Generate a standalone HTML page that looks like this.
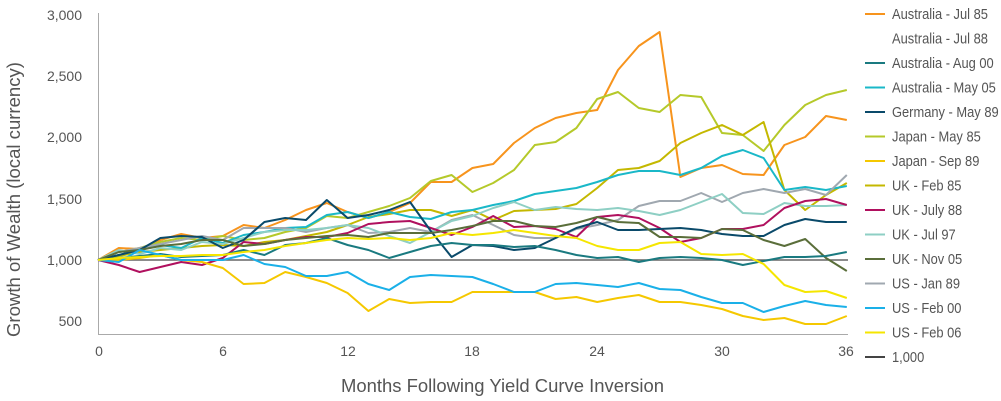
<!DOCTYPE html>
<html><head><meta charset="utf-8"><style>
html,body{margin:0;padding:0;background:#fff;width:1001px;height:401px;overflow:hidden}
svg text{font-family:"Liberation Sans Narrow","Liberation Sans",sans-serif;fill:#555}
</style></head><body>
<svg id="c" width="1001" height="401" xmlns="http://www.w3.org/2000/svg">
<g font-size="14" text-anchor="end">
<text x="82" y="20">3,000</text><text x="82" y="81">2,500</text><text x="82" y="142">2,000</text>
<text x="82" y="204">1,500</text><text x="82" y="265">1,000</text><text x="82" y="326">500</text>
</g>
<g font-size="14" text-anchor="middle">
<text x="99" y="356">0</text><text x="223" y="356">6</text><text x="348" y="356">12</text>
<text x="472" y="356">18</text><text x="597" y="356">24</text><text x="722" y="356">30</text><text x="846" y="356">36</text>
</g>
<text x="341" y="392" font-size="18" textLength="323" lengthAdjust="spacingAndGlyphs">Months Following Yield Curve Inversion</text>
<text transform="translate(20,337) rotate(-90)" font-size="18" textLength="275" lengthAdjust="spacingAndGlyphs">Growth of Wealth (local currency)</text>
<line x1="98.5" y1="13" x2="98.5" y2="334" stroke="#aaa" stroke-width="1"/>
<line x1="98" y1="334.5" x2="848" y2="334.5" stroke="#aaa" stroke-width="1"/>
<line x1="98" y1="260" x2="848" y2="260" stroke="#666" stroke-width="1.5"/>
<g id="lines" fill="none" stroke-width="2" stroke-linejoin="round"></g>
<g id="leg" font-size="14"></g>
</svg>
<script>
var S=[
["#f7941d",[260,248,249,240,234,238,236,225,228,220,210,203,212,218,212,203,182,182,168,164,143,128,118,113,110,70,46,32,177,168,165,174,175,145,137,116,120]],
["#b5c92a",[260,252,248,242,238,240,236,240,238,232,228,216,218,212,206,198,181,175,192,183,170,145,142,128,99,92,108,112,95,97,133,135,151,125,105,95,90]],
["#c4b800",[260,256,252,250,248,246,245,246,242,240,236,232,225,217,214,210,210,216,210,220,211,210,209,204,188,170,168,161,143,133,125,135,122,190,210,195,183]],
["#1ab8c8",[260,255,250,245,248,238,243,235,232,228,227,215,212,218,212,217,219,212,210,205,201,194,191,188,182,175,171,171,175,168,156,150,158,190,187,190,186]],
["#a0a8b0",[260,252,248,244,240,236,240,228,228,228,232,228,225,233,232,228,232,220,215,225,235,238,238,229,225,220,206,201,201,193,202,193,189,193,189,195,175]],
["#8ecfc4",[260,250,254,248,250,242,244,238,232,230,230,228,225,228,236,243,232,221,216,208,202,210,207,209,210,208,211,215,210,202,194,213,214,203,206,206,205]],
["#b0105e",[260,265,272,267,262,265,258,242,244,240,237,237,233,224,222,221,228,235,227,216,227,226,229,237,217,215,218,228,242,238,229,229,225,208,201,199,205]],
["#0a4a6a",[260,255,250,238,236,237,248,240,222,218,220,200,218,215,210,202,231,257,245,246,250,248,238,228,222,230,230,229,228,230,234,236,236,225,219,222,222]],
["#5a6e3a",[260,252,250,246,244,240,240,246,244,240,238,236,235,237,233,233,233,230,226,221,221,226,227,223,217,222,223,237,237,238,229,230,240,246,239,258,271]],
["#1a7a80",[260,258,256,254,257,256,255,250,255,245,243,238,245,250,258,252,246,243,245,245,247,246,250,255,258,257,262,258,257,258,260,265,261,257,257,256,252]],
["#f5c800",[260,260,258,255,260,262,268,284,283,272,277,283,293,311,299,303,302,302,292,292,292,292,299,297,302,298,295,302,302,305,309,316,320,318,324,324,316]],
["#1ab0e8",[260,262,250,255,260,260,260,255,264,267,276,276,272,284,290,277,275,276,277,284,292,292,284,283,285,287,283,289,290,297,303,303,312,306,301,305,307]],
["#f5e600",[260,258,257,256,256,255,255,252,250,246,243,240,238,239,238,240,238,233,235,233,230,233,236,238,246,250,250,243,242,254,255,254,264,285,292,291,298]]
];
var ns="http://www.w3.org/2000/svg",g=document.getElementById("lines");
S.forEach(function(s){var p=document.createElementNS(ns,"polyline");
p.setAttribute("points",s[1].map(function(y,i){return (98+20.8*i).toFixed(1)+","+y}).join(" "));
p.setAttribute("stroke",s[0]);g.appendChild(p);});
var L=[["#f7941d","Australia - Jul 85"],["#fff","Australia - Jul 88"],["#1a7a80","Australia - Aug 00"],["#1ab8c8","Australia - May 05"],["#0a4a6a","Germany - May 89"],["#b5c92a","Japan - May 85"],["#f5c800","Japan - Sep 89"],["#c4b800","UK - Feb 85"],["#b0105e","UK - July 88"],["#8ecfc4","UK - Jul 97"],["#5a6e3a","UK - Nov 05"],["#a0a8b0","US - Jan 89"],["#1ab0e8","US - Feb 00"],["#f5e600","US - Feb 06"],["#444","1,000"]];
var lg=document.getElementById("leg");
L.forEach(function(l,i){var y=14+i*24.5;
var ln=document.createElementNS(ns,"line");ln.setAttribute("x1",865);ln.setAttribute("x2",885);ln.setAttribute("y1",y);ln.setAttribute("y2",y);ln.setAttribute("stroke",l[0]);ln.setAttribute("stroke-width",2);lg.appendChild(ln);
var t=document.createElementNS(ns,"text");t.setAttribute("transform","translate(892,"+(y+5)+") scale(0.86,1)");t.setAttribute("font-size","15");t.textContent=l[1];lg.appendChild(t);});
</script>
</body></html>
